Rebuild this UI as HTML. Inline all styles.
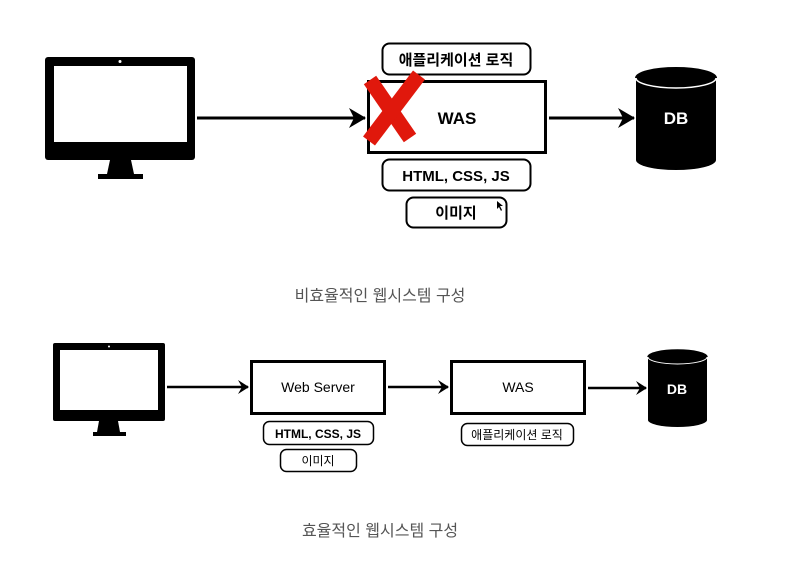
<!DOCTYPE html>
<html><head><meta charset="utf-8"><style>
html,body{margin:0;padding:0;background:#fff;}
svg{display:block;}
text{font-family:"Liberation Sans","Noto Sans CJK KR",sans-serif;}
</style></head><body>
<svg width="807" height="561" viewBox="0 0 807 561" xmlns="http://www.w3.org/2000/svg">
<defs>
<marker id="ar" markerWidth="12" markerHeight="14" refX="10" refY="7" orient="auto" markerUnits="userSpaceOnUse">
<path d="M0,0 L11,7 L0,14 L4,7 Z" fill="#000"/></marker>
<marker id="ar2" markerWidth="18" markerHeight="20" refX="16" refY="10" orient="auto" markerUnits="userSpaceOnUse">
<path d="M0,0 L17,10 L0,20 L5,10 Z" fill="#000"/></marker>
</defs>
<!-- TOP -->
<rect x="45" y="57" width="150" height="103" rx="3" fill="#000"/>
<rect x="54" y="66" width="133" height="76" fill="#fff"/>
<circle cx="120" cy="61.5" r="1.5" fill="#fff"/>
<path d="M110,160 L131,160 L134,174 L107,174 Z" fill="#000"/>
<rect x="98" y="174" width="45" height="5" fill="#000"/>
<line x1="197" y1="118" x2="365" y2="118" stroke="#000" stroke-width="3" marker-end="url(#ar2)"/>
<rect x="368.5" y="81.5" width="177" height="71" fill="#fff" stroke="#000" stroke-width="3"/>
<text x="457" y="124" font-size="17" font-weight="bold" text-anchor="middle">WAS</text>
<line x1="549" y1="118" x2="634" y2="118" stroke="#000" stroke-width="3" marker-end="url(#ar2)"/>
<path d="M636,78 L636,160 A40,10 0 0 0 716,160 L716,78 Z" fill="#000"/>
<ellipse cx="676" cy="78" rx="40" ry="10" fill="#000" stroke="#fff" stroke-width="1.5"/>
<path d="M636,78 A40,10 0 0 1 716,78" fill="#000" stroke="#000" stroke-width="2"/>
<text x="676" y="124" font-size="17" font-weight="bold" fill="#fff" text-anchor="middle">DB</text>
<rect x="382.5" y="43.5" width="148" height="31" rx="7" fill="#fff" stroke="#000" stroke-width="2"/>
<text x="456" y="65" font-size="15" font-weight="bold" text-anchor="middle">애플리케이션 로직</text>
<rect x="382.5" y="159.5" width="148" height="31" rx="7" fill="#fff" stroke="#000" stroke-width="2"/>
<text x="456" y="181" font-size="15" font-weight="bold" text-anchor="middle">HTML, CSS, JS</text>
<rect x="406.5" y="197.5" width="100" height="30" rx="7" fill="#fff" stroke="#000" stroke-width="2"/>
<text x="456" y="218" font-size="15" font-weight="bold" text-anchor="middle">이미지</text>
<path d="M497,201 L497,209 L499,207 L501,211 L502,210 L500,206 L503,206 Z" fill="#000"/>
<line x1="370" y1="80" x2="410" y2="138" stroke="#e0180c" stroke-width="15" stroke-linecap="butt"/>
<line x1="419" y1="75" x2="369" y2="141" stroke="#e0180c" stroke-width="15" stroke-linecap="butt"/>
<text x="380" y="301" font-size="16" fill="#555" text-anchor="middle">비효율적인 웹시스템 구성</text>
<!-- BOTTOM -->
<rect x="53" y="343" width="112" height="78" rx="2" fill="#000"/>
<rect x="60" y="350" width="98" height="60" fill="#fff"/>
<circle cx="109" cy="346.5" r="1" fill="#fff"/>
<path d="M99,421 L118,421 L120,432 L97,432 Z" fill="#000"/>
<rect x="93" y="432" width="33" height="4" fill="#000"/>
<line x1="167" y1="387" x2="248" y2="387" stroke="#000" stroke-width="2.5" marker-end="url(#ar)"/>
<rect x="251.5" y="361.5" width="133" height="52" fill="#fff" stroke="#000" stroke-width="3"/>
<text x="318" y="392" font-size="14" text-anchor="middle">Web Server</text>
<line x1="388" y1="387" x2="448" y2="387" stroke="#000" stroke-width="2.5" marker-end="url(#ar)"/>
<rect x="451.5" y="361.5" width="133" height="52" fill="#fff" stroke="#000" stroke-width="3"/>
<text x="518" y="392" font-size="14" text-anchor="middle">WAS</text>
<line x1="588" y1="388" x2="646" y2="388" stroke="#000" stroke-width="2.5" marker-end="url(#ar)"/>
<path d="M648,357 L648,420 A29.5,7 0 0 0 707,420 L707,357 Z" fill="#000"/>
<ellipse cx="677.5" cy="357" rx="29.5" ry="7" fill="#000" stroke="#fff" stroke-width="1"/>
<path d="M648,357 A29.5,7 0 0 1 707,357" fill="#000" stroke="#000" stroke-width="1.5"/>
<text x="677" y="394" font-size="14" font-weight="bold" fill="#fff" text-anchor="middle">DB</text>
<rect x="263.5" y="421.5" width="110" height="23" rx="6" fill="#fff" stroke="#000" stroke-width="1.5"/>
<text x="318" y="438" font-size="12" font-weight="bold" text-anchor="middle">HTML, CSS, JS</text>
<rect x="280.5" y="449.5" width="76" height="22" rx="6" fill="#fff" stroke="#000" stroke-width="1.5"/>
<text x="318" y="465" font-size="12" text-anchor="middle">이미지</text>
<rect x="461.5" y="423.5" width="112" height="22" rx="6" fill="#fff" stroke="#000" stroke-width="1.5"/>
<text x="517" y="439" font-size="12" text-anchor="middle">애플리케이션 로직</text>
<text x="380" y="536" font-size="16" fill="#555" text-anchor="middle">효율적인 웹시스템 구성</text>
</svg>
</body></html>
